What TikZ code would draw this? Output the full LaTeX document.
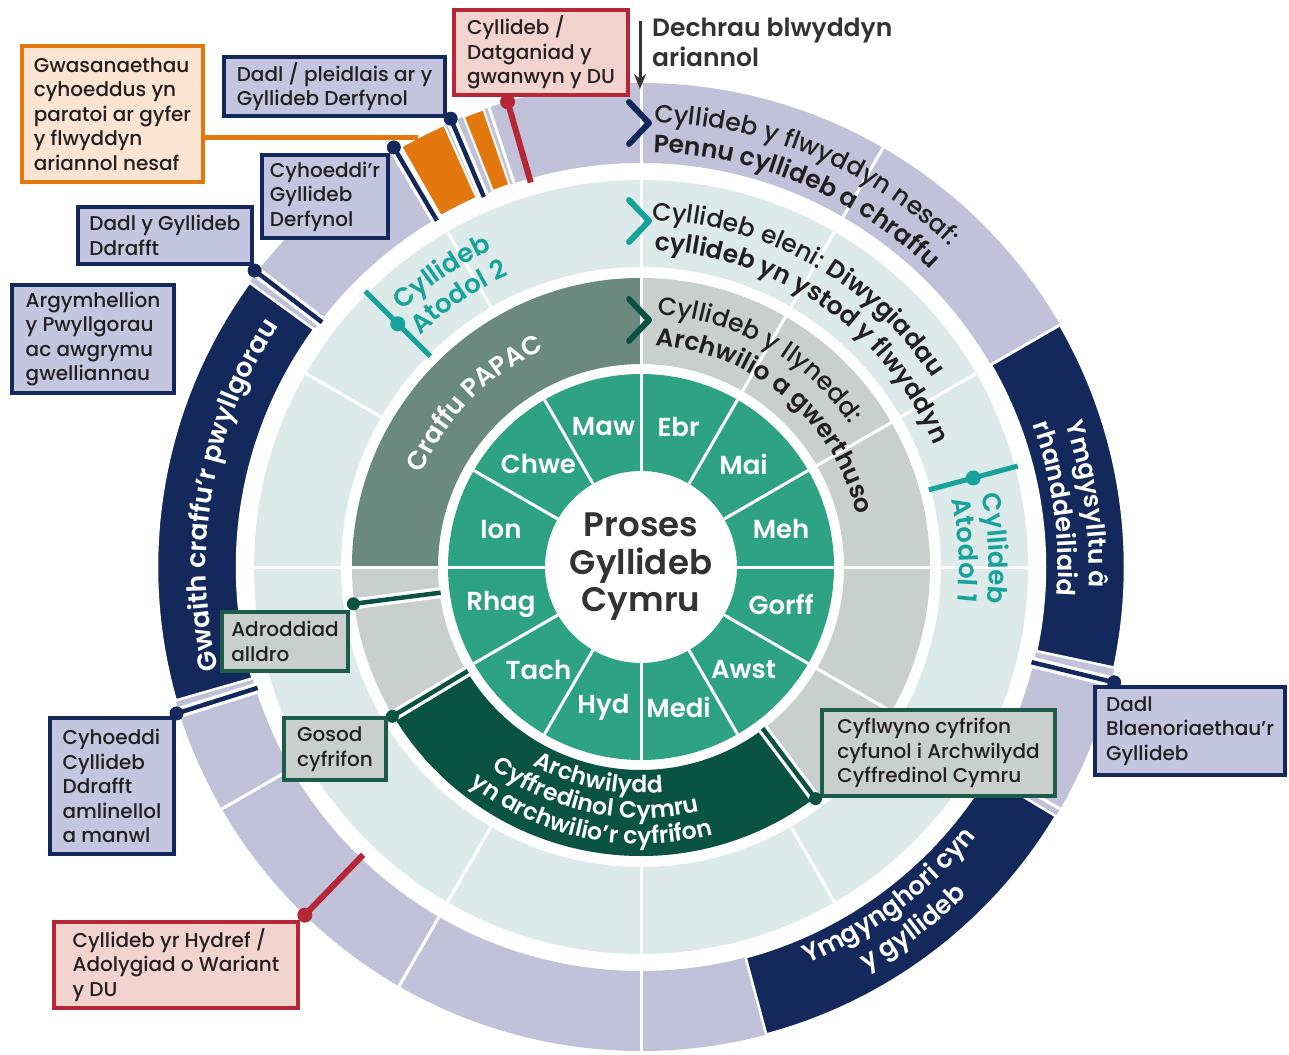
\documentclass[tikz,border=0pt]{standalone}
\usepackage{fontspec}
\IfFontExistsTF{Poppins Medium}{%
  \IfFontExistsTF{Poppins SemiBold}{\setmainfont{Poppins Medium}[BoldFont={Poppins SemiBold}]}{\setmainfont{Poppins Medium}[BoldFont={Poppins Bold}]}%
}{\setmainfont{Poppins}}
\usetikzlibrary{decorations.text,arrows.meta}
\definecolor{monthg}{HTML}{2DA383}
\definecolor{papacd}{HTML}{6A8A80}
\definecolor{papacl}{HTML}{C8CFCC}
\definecolor{audg}{HTML}{0A5242}
\definecolor{lightr}{HTML}{DCEBEA}
\definecolor{lav}{HTML}{C1C2DA}
\definecolor{navy}{HTML}{13295B}
\definecolor{orng}{HTML}{E2780E}
\definecolor{redc}{HTML}{B52636}
\definecolor{tealc}{HTML}{17A29C}
\definecolor{peach}{HTML}{FBE4D1}
\definecolor{pinkf}{HTML}{F2D3CE}
\definecolor{boxlav}{HTML}{C4C5DE}
\definecolor{boxgr}{HTML}{C9CFCC}
\definecolor{dkgrn}{HTML}{1E5C4A}
\definecolor{txt}{HTML}{231F20}
\definecolor{txtg}{HTML}{333333}
\newcommand\ann[4]{(#3:#2) arc[start angle=#3,end angle=#4,radius=#2] -- (#4:#1) arc[start angle=#4,end angle=#3,radius=#1] -- cycle}
\newcommand\fR{\fontsize{25}{25}\selectfont}
\newcommand\fB{\fontsize{25}{25}\selectfont\bfseries}
\newcommand\fW[1]{\fontsize{#1}{#1}\selectfont\bfseries}
\tikzset{
  box/.style={draw, line width=4pt, rectangle, anchor=north west, outer sep=0pt, inner sep=0pt, align=left, font=\fontsize{20}{24.5}\selectfont, text=txt},
  navybox/.style={box, draw=navy, fill=boxlav},
  greenbox/.style={box, draw=dkgrn, fill=boxgr},
  redbox/.style={box, draw=redc, fill=pinkf},
  orbox/.style={box, draw=orng, fill=peach},
  sep/.style={white, line width=3pt},
  conn/.style={line width=4.5pt, preaction={draw=white, line width=11pt}},
  redline/.style={redc, line width=6pt},
  tealline/.style={tealc, line width=5pt},
  chev/.style={line width=6pt, line cap=round, line join=round},
  darkseg/.style={fill=navy, draw=white, line width=2.5pt},
  orseg/.style={fill=orng, draw=white, line width=2pt},
  mlabel/.style={text=white, font=\fontsize{26}{26}\selectfont\bfseries},
  ctext/.style={decorate, decoration={text along path, text align=center, text color=#1}},
  ltext/.style={decorate, decoration={text along path, text color=#1}}
}
\begin{document}
\begin{tikzpicture}[x=1pt,y=1pt]
\useasboundingbox (-641,-487) rectangle (648,567);
\fill[white] (-641,-487) rectangle (648,567);

% rings
\fill[lav,even odd rule] (0,0) circle[radius=484] (0,0) circle[radius=404];
\fill[lightr,even odd rule] (0,0) circle[radius=387] (0,0) circle[radius=300];
\fill[papacl,even odd rule] (0,0) circle[radius=289] (0,0) circle[radius=203];
\fill[papacd] \ann{203}{289}{90}{180};
\fill[audg] \ann{203}{289}{211}{307};
\fill[monthg,even odd rule] (0,0) circle[radius=193] (0,0) circle[radius=96];

% separators
\foreach \a in {0,30,...,330} {
  \draw[sep] (\a:96) -- (\a:193);
  \draw[sep] (\a:300) -- (\a:387);
  \draw[sep] (\a:404) -- (\a:484);
}
\foreach \a in {90,60,30,0,-30,180} \draw[sep] (\a:203) -- (\a:289);
\draw[sep] (108.3:404) -- (108.3:484);

% dark segments of the outer ring
\filldraw[darkseg] \ann{404}{484}{-12}{30};
\filldraw[darkseg] \ann{404}{484}{-75}{-31};
\filldraw[darkseg] \ann{404}{484}{144}{196};
\filldraw[orseg] \ann{404}{484}{114}{119.7};
\filldraw[orseg] \ann{404}{484}{109}{111.5};

% connector coordinates
\coordinate (dDP) at (113:487);   \coordinate (iDP) at (113:402);
\coordinate (dCY) at (120.5:487); \coordinate (iCY) at (120.5:402);
\coordinate (dDG) at (142.5:487); \coordinate (iDG) at (142.5:402);
\coordinate (dCD) at (197.5:487); \coordinate (iCD) at (197.5:402);
\coordinate (dBL) at (-13.7:487); \coordinate (iBL) at (-13.7:402);
\coordinate (dGW) at (106:484);   \coordinate (iGW) at (106:400);
\coordinate (dHY) at (226:484);   \coordinate (iHY) at (226:400);
\coordinate (dAL) at (187.3:290); \coordinate (iAL) at (187.3:202);
\coordinate (dGO) at (211:290);   \coordinate (iGO) at (211:202);
\coordinate (dCF) at (-53:290);   \coordinate (iCF) at (-53:202);
\coordinate (tAo) at (135:390);   \coordinate (tAi) at (135:298); \coordinate (tAm) at (135:344);
\coordinate (tBo) at (15:390);    \coordinate (tBi) at (15:298);  \coordinate (tBm) at (15:344);
\coordinate (orl) at (117.4:484);

\draw[conn, navy] (dDP) -- (iDP);
\draw[conn, navy] (dCY) -- (iCY);
\draw[conn, navy] (dDG) -- (iDG);
\draw[conn, navy] (dCD) -- (iCD);
\draw[conn, navy] (dBL) -- (iBL);
\draw[conn, audg] (dAL) -- (iAL);
\draw[conn, audg] (dGO) -- (iGO);
\draw[conn, audg] (dCF) -- (iCF);
\draw[redline] (dGW) -- (iGW);
\draw[redline] (dHY) -- (iHY);
\draw[tealline] (tAo) -- (tAi);
\draw[tealline] (tBo) -- (tBi);
\foreach \p in {dDP,dCY,dDG,dCD,dBL} \fill[navy] (\p) circle[radius=7];
\foreach \p in {dAL,dGO,dCF} \fill[audg] (\p) circle[radius=6.5];
\foreach \p in {dGW,dHY} \fill[redc] (\p) circle[radius=7.5];
\foreach \p in {tAm,tBm} \fill[tealc] (\p) circle[radius=7.5];

% chevrons
\coordinate (ca1) at (-12,465); \coordinate (ca2) at (8,444); \coordinate (ca3) at (-12,423);
\coordinate (cb1) at (-12,367); \coordinate (cb2) at (8,346); \coordinate (cb3) at (-12,325);
\coordinate (cc1) at (-12,268); \coordinate (cc2) at (8,247); \coordinate (cc3) at (-12,226);
\draw[chev, navy] (ca1) -- (ca2) -- (ca3);
\draw[chev, tealc] (cb1) -- (cb2) -- (cb3);
\draw[chev, audg] (cc1) -- (cc2) -- (cc3);

% start of the financial year
\node[anchor=north west, inner sep=0pt, align=left, font=\fontsize{25}{30}\selectfont\bfseries, text=txtg] (dech) at (11,549) {Dechrau blwyddyn\\ariannol};
\coordinate (arS) at (-1,546); \coordinate (arE) at (-1,478);
\draw[txtg, line width=3pt, -{Stealth[length=15pt,width=12pt]}] (arS) -- (arE);

% curved texts, top
\path[ltext=txt, decoration={text={|\fR|Cyllideb y flwyddyn nesaf:}}] (88.3:445) arc[start angle=88.3,end angle=-10,radius=445];
\path[ltext=txt, decoration={text={|\fB|Pennu cyllideb a chraffu}}] (88.3:415) arc[start angle=88.3,end angle=-10,radius=415];
\path[ltext=txt, decoration={text={|\fR|Cyllideb eleni: |\fB|Diwygiadau}}] (88.2:347) arc[start angle=88.2,end angle=-20,radius=347];
\path[ltext=txt, decoration={text={|\fB|cyllideb yn ystod y flwyddyn}}] (87.6:317) arc[start angle=87.6,end angle=-20,radius=317];
\path[ltext=txt, decoration={text={|\fR|Cyllideb y llynedd:}}] (86.3:253) arc[start angle=86.3,end angle=-40,radius=253];
\path[ltext=txt, decoration={text={|\fB|Archwilio a gwerthuso}}] (86.3:222) arc[start angle=86.3,end angle=-40,radius=222];

\path[ctext=white, decoration={text={|\fW{26}|Craffu PAPAC}}] (185.5:238) arc[start angle=185.5,end angle=85.5,radius=238];
\path[ctext=white, decoration={text={|\fW{26.5}|Gwaith craffu’r pwyllgorau}}] (230:435) arc[start angle=230,end angle=110,radius=435];
\path[ctext=white, decoration={text={|\fW{25}|Ymgysylltu â}}] (50:448) arc[start angle=50,end angle=-34,radius=448];
\path[ctext=white, decoration={text={|\fW{25.5}|rhanddeiliaid}}] (50:417) arc[start angle=50,end angle=-34,radius=417];
\path[ctext=white, decoration={text={|\fW{25.5}|Ymgynghori cyn}}] (-110:430) arc[start angle=-110,end angle=4,radius=430];
\path[ctext=white, decoration={text={|\fW{25.5}|y gyllideb}}] (-110:462) arc[start angle=-110,end angle=4,radius=462];
\path[ctext=white, decoration={text={|\fW{23.5}|Archwilydd}}] (198.5:226) arc[start angle=198.5,end angle=318.5,radius=226];
\path[ctext=white, decoration={text={|\fW{23.5}|Cyffredinol Cymru}}] (198.5:251) arc[start angle=198.5,end angle=318.5,radius=251];
\path[ctext=white, decoration={text={|\fW{23.5}|yn archwilio’r cyfrifon}}] (198.5:277) arc[start angle=198.5,end angle=318.5,radius=277];
\path[ctext=tealc, decoration={text={|\fW{26}|Cyllideb}}] (154:350) arc[start angle=154,end angle=94,radius=350];
\path[ctext=tealc, decoration={text={|\fW{26}|Atodol 2}}] (154:320) arc[start angle=154,end angle=94,radius=320];
\path[ctext=tealc, decoration={text={|\fW{26}|Cyllideb}}] (33:348) arc[start angle=33,end angle=-27,radius=348];
\path[ctext=tealc, decoration={text={|\fW{26}|Atodol 1}}] (33:318) arc[start angle=33,end angle=-27,radius=318];

% months
\foreach \n [count=\i] in {Ebr,Mai,Meh,Gorff,Awst,Medi,Hyd,Tach,Rhag,Ion,Chwe,Maw}
  \node[mlabel] (m\i) at ({105-30*\i}:145) {\n};
\node[font=\fontsize{34}{37.5}\selectfont\bfseries, text=txtg, align=center] (title) at (0,0) {Proses\\Gyllideb\\Cymru};

% boxes
\node[orbox, minimum width=181pt, minimum height=136pt] (gwas) at (-619,521) {Gwasanaethau\\cyhoeddus yn\\paratoi ar gyfer\\y flwyddyn\\ariannol nesaf};
\draw[orng, line width=5pt] (gwas.east |- orl) -- (orl);
\node[navybox, minimum width=221pt, minimum height=59pt] (dadlp) at (-417,510) {Dadl / pleidlais ar y\\Gyllideb Derfynol};
\node[redbox, minimum width=174pt, minimum height=85pt] (gwanwyn) at (-187,557) {Cyllideb /\\Datganiad y\\gwanwyn y DU};
\node[navybox, minimum width=126pt, minimum height=83pt] (cyhr) at (-379,412) {Cyhoeddi’r\\Gyllideb\\Derfynol};
\node[navybox, minimum width=174pt, minimum height=57pt] (dadlg) at (-563,360) {Dadl y Gyllideb\\Ddrafft};
\node[navybox, minimum width=162pt, minimum height=108pt] (argym) at (-629,282) {Argymhellion\\y Pwyllgorau\\ac awgrymu\\gwelliannau};
\node[navybox, minimum width=124pt, minimum height=136pt] (cyhdd) at (-591,-151) {Cyhoeddi\\Cyllideb\\Ddrafft\\amlinellol\\a manwl};
\node[redbox, minimum width=244pt, minimum height=86pt] (hydref) at (-587,-355) {Cyllideb yr Hydref /\\Adolygiad o Wariant\\y DU};
\node[greenbox, minimum width=126pt, minimum height=59pt] (alldro) at (-419,-45) {Adroddiad\\alldro};
\node[greenbox, minimum width=102pt, minimum height=62pt] (gosod) at (-357,-151) {Gosod\\cyfrifon};
\node[greenbox, minimum width=233pt, minimum height=86pt] (cyflw) at (181,-143) {Cyflwyno cyfrifon\\cyfunol i Archwilydd\\Cyffredinol Cymru};
\node[navybox, minimum width=190pt, minimum height=88pt] (blaen) at (454,-120) {Dadl\\Blaenoriaethau’r\\Gyllideb};
\end{tikzpicture}
\end{document}
